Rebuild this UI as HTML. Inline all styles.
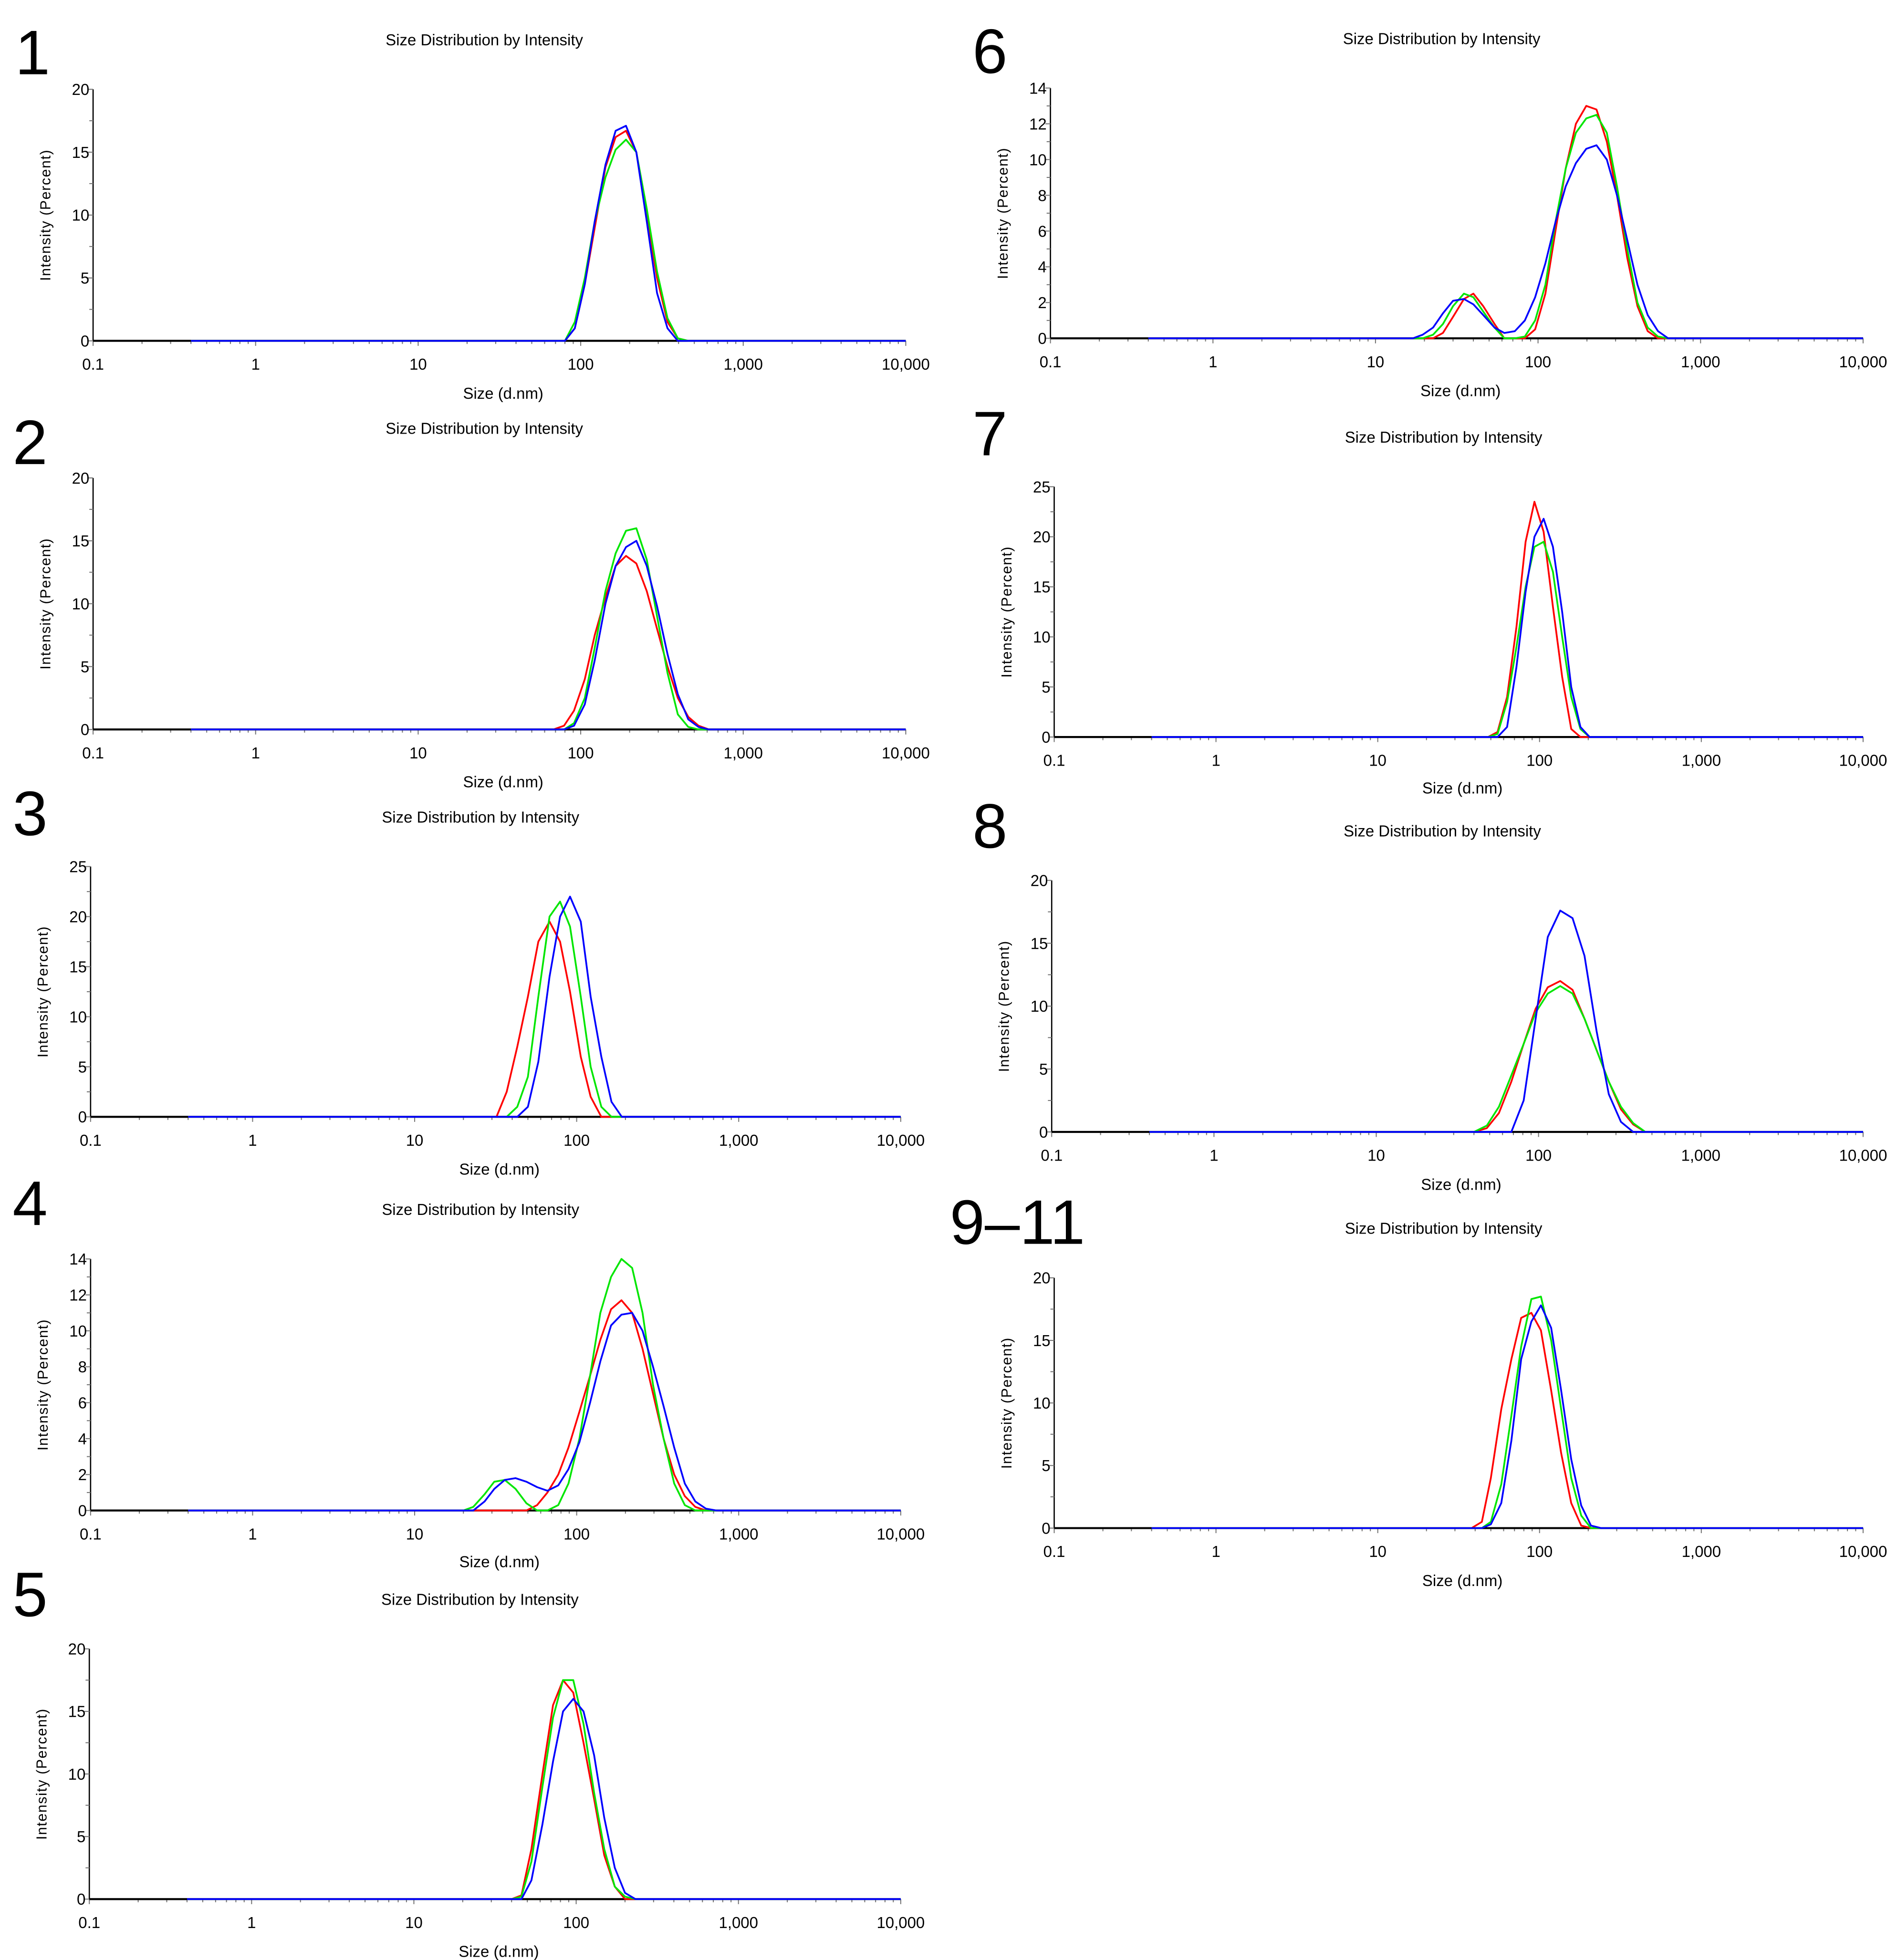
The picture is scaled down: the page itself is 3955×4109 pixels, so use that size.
<!DOCTYPE html>
<html><head><meta charset="utf-8"><style>
html,body{margin:0;padding:0;background:#fff;}
svg{display:block;}
text{font-family:"Liberation Sans",sans-serif;fill:#000;}
</style></head><body>
<svg id="fig" xmlns="http://www.w3.org/2000/svg" width="3955" height="4109" viewBox="0 0 1500 1558.4"></svg>
<script>
// ---- data (sizes in nm, intensity in percent) ----
const p1Sizes=[80,92,106,122,142,164,190,220,255,295,342,396,459];
const p1Red=[0,1,4.5,9,13.8,16.2,16.7,15,10,5,1.5,0.2,0];
const p1Green=[0,1.5,5,9.5,13,15.2,16,15,10.5,5.5,1.8,0.2,0];
const p1Blue=[0,1,4.5,9.5,14,16.7,17.1,15,9.5,3.8,1,0,0];

const p2Sizes=[68,79,91,106,122,142,164,190,220,255,295,342,396,459,531,615,712];
const p2Red=[0,0.3,1.5,4,7.5,10.5,13,13.8,13.2,11,8,5,2.5,1,0.3,0,0];
const p2Green=[0,0,0.5,2.5,6.5,11,14,15.8,16,13.5,9,4.5,1.2,0.2,0,0,0];
const p2Blue=[0,0,0.3,2,5.5,10,13,14.5,15,13,9.8,6,2.8,0.8,0.2,0,0];

const p3Sizes=[28,32,37,43,50,58,68,79,91,106,122,142,164,190];
const p3Red=[0,0,2.5,7,12,17.5,19.5,17.5,12.5,6,2,0,0,0];
const p3Green=[0,0,0,1,4,12,20,21.5,19,12,5,1,0,0];
const p3Blue=[0,0,0,0,1,5.5,14,20,22,19.5,12,6,1.5,0];

const p4Sizes=[20,23,27,31,36,42,49,57,66,77,89,104,121,140,163,189,220,255,296,344,400,465,540,628,730];
const p4Red=[0,0,0,0,0,0,0,0.3,1,2,3.5,5.5,7.5,9.5,11.2,11.7,11,9,6.5,4,2,0.8,0.2,0,0];
const p4Green=[0,0.2,0.9,1.6,1.7,1.2,0.4,0,0,0.3,1.5,4,7.5,11,13,14,13.5,11,7,4,1.5,0.3,0,0,0];
const p4Blue=[0,0,0.5,1.2,1.7,1.8,1.6,1.3,1.1,1.4,2.3,3.8,6,8.3,10.3,10.9,11,10,8,5.8,3.5,1.5,0.5,0.1,0];

const p5Sizes=[40,46,53,62,72,83,96,111,129,149,173,200,232,268];
const p5Red=[0,0.3,4,10,15.5,17.5,16.5,12.5,8,3.5,1,0,0,0];
const p5Green=[0,0.2,3,9,14.5,17.5,17.5,14,8.5,4,1,0.2,0,0];
const p5Blue=[0,0,1.5,6,11,15,16,15,11.5,6.5,2.5,0.5,0,0];

const p6Sizes=[17,19.5,22.6,26,30,35,40,46,54,62,72,83,96,111,128,148,171,198,229,265,306,354,409,473,547,632,731];
const p6Red=[0,0,0,0.3,1.2,2.2,2.5,1.8,0.8,0,0,0,0.5,2.5,6,9.5,12,13,12.8,11,8,4.5,1.8,0.4,0,0,0];
const p6Green=[0,0,0.2,0.8,1.8,2.5,2.3,1.5,0.6,0,0,0.1,1,3,6.5,9.5,11.5,12.3,12.5,11.5,8.5,5,2,0.6,0.1,0,0];
const p6Blue=[0,0.2,0.6,1.4,2.1,2.2,1.9,1.3,0.6,0.3,0.4,1,2.3,4.2,6.5,8.5,9.8,10.6,10.8,10,8,5.5,3,1.3,0.4,0,0];

const p7Sizes=[48,55,63,72,82,93,106,121,138,157,179,204,232];
const p7Red=[0,0.5,4,11,19.5,23.5,20.5,13,6,0.8,0,0,0];
const p7Green=[0,0.3,3.5,9,15,19,19.5,16.5,10,4,0.8,0,0];
const p7Blue=[0,0,1,7,14.5,20,21.8,19,12.5,5,1,0,0];

const p8Sizes=[40,48,57,68,81,96,114,136,162,192,228,271,322,383,455,540];
const p8Red=[0,0.3,1.5,4,7,9.8,11.5,12,11.3,9,6.5,4,1.8,0.6,0,0];
const p8Green=[0,0.5,2,4.5,7,9.5,11,11.6,11,9,6.5,4,2,0.7,0,0];
const p8Blue=[0,0,0,0,2.5,9,15.5,17.6,17,14,8,3,0.8,0,0,0];

const p9Sizes=[38,44,50,58,67,77,89,102,118,136,157,181,208,240];
const p9Red=[0,0.5,4,9.5,13.5,16.8,17.2,15.8,11,6,2,0.2,0,0];
const p9Green=[0,0,0.5,3.5,9,14.5,18.3,18.5,15,9.5,4,1,0,0];
const p9Blue=[0,0,0.3,2,7,13.5,16.5,17.8,16,11,5.5,1.8,0.2,0];

const xTickLabels=["0.1","1","10","100","1,000","10,000"];
const panelLabels=["1","2","3","4","5","6","7","8","9–11"];
const panelYMax=[20,20,25,14,20,14,25,20,20];
const panelYStep=[5,5,5,2,5,2,5,5,5];

// ---- layout (not data) ----
const layouts=[
 {x0:74,x1:720,yz:271,yt:71,ty:36,lx:12,ly:59,xl:317},
 {x0:74,x1:720,yz:580,yt:380,ty:345,lx:10,ly:369,xl:626},
 {x0:72,x1:716,yz:888,yt:689,ty:654,lx:10,ly:664,xl:934},
 {x0:72,x1:716,yz:1201,yt:1001,ty:966,lx:10,ly:974,xl:1246},
 {x0:71,x1:716,yz:1510,yt:1311,ty:1276,lx:10,ly:1285,xl:1556},
 {x0:835,x1:1481,yz:269,yt:70,ty:35,lx:773,ly:58,xl:315},
 {x0:838,x1:1481,yz:586,yt:387,ty:352,lx:773,ly:362,xl:631},
 {x0:836,x1:1481,yz:900,yt:700,ty:665,lx:773,ly:674,xl:946},
 {x0:838,x1:1481,yz:1215,yt:1016,ty:981,lx:755,ly:989,xl:1261}
];
const allData=[
 [p1Sizes,p1Red,p1Green,p1Blue],[p2Sizes,p2Red,p2Green,p2Blue],[p3Sizes,p3Red,p3Green,p3Blue],
 [p4Sizes,p4Red,p4Green,p4Blue],[p5Sizes,p5Red,p5Green,p5Blue],[p6Sizes,p6Red,p6Green,p6Blue],
 [p7Sizes,p7Red,p7Green,p7Blue],[p8Sizes,p8Red,p8Green,p8Blue],[p9Sizes,p9Red,p9Green,p9Blue]
];
const NS="http://www.w3.org/2000/svg";
const svg=document.getElementById('fig');
function mk(tag,attrs,parent){const e=document.createElementNS(NS,tag);for(const k in attrs)e.setAttribute(k,attrs[k]);parent.appendChild(e);return e;}

layouts.forEach((L,i)=>{
  const g=mk('g',{},svg);
  
  
  const ymax=panelYMax[i], ystep=panelYStep[i];
  const xs=v=>L.x0+(Math.log10(v)+1)/5*(L.x1-L.x0);
  const ys=v=>L.yz-(v/ymax)*(L.yz-L.yt);
  const cx=(L.x0+L.x1)/2;
  // panel number
  const pl=mk('text',{x:L.lx,y:L.ly,'font-size':50},g);pl.textContent=panelLabels[i];
  
  
  // title
  const t=mk('text',{x:cx-12,y:L.ty,'font-size':12.5,'text-anchor':'middle'},g);t.textContent="Size Distribution by Intensity";
  
  
  // x label
  const xl=mk('text',{x:cx+3,y:L.xl,'font-size':12.5,'text-anchor':'middle'},g);xl.textContent="Size (d.nm)";
  
  
  // y label
  const ymid=(L.yz+L.yt)/2;
  const yl=mk('text',{x:L.x0-34,y:ymid,'font-size':11.5,'text-anchor':'middle','letter-spacing':'0.6',transform:`rotate(-90 ${L.x0-34} ${ymid})`},g);yl.textContent="Intensity (Percent)";
  
  
  // y axis
  const ya=mk('line',{x1:L.x0,y1:L.yt,x2:L.x0,y2:L.yz,stroke:'#000','stroke-width':1},g);
  
  
  for(let v=0;v<=ymax+1e-9;v+=ystep/2){
    const major=Math.abs(v/ystep-Math.round(v/ystep))<1e-6;
    mk('line',{x1:L.x0-(major?4:3),y1:ys(v),x2:L.x0,y2:ys(v),stroke:'#777','stroke-width':0.8},g);
    if(major){const tl=mk('text',{x:L.x0-3,y:ys(v)+4.5,'font-size':12.5,'text-anchor':'end'},g);tl.textContent=String(v);
      
      }
  }
  // x ticks
  for(let d=-1;d<=4;d++){
    const lbl=mk('text',{x:xs(Math.pow(10,d)),y:L.yz+23,'font-size':12.5,'text-anchor':'middle'},g);lbl.textContent=xTickLabels[d+1];
    
    
    for(let m=1;m<=9;m++){const v=m*Math.pow(10,d);if(v>10000.1)break;
      mk('line',{x1:xs(v),y1:L.yz,x2:xs(v),y2:L.yz+(m===1?4:2.5),stroke:'#777','stroke-width':0.8},g);}
  }
  // baseline
  const bl=mk('line',{x1:L.x0,y1:L.yz,x2:L.x1,y2:L.yz,stroke:'#000','stroke-width':1.6},g);
  
  
  // series
  const [sz,r,gr,b]=allData[i];
  [[r,'#ff0000','red'],[gr,'#00e600','green'],[b,'#0000ff','blue']].forEach(([vals,col,nm])=>{
    const pts=[[0.4,0]];
    sz.forEach((s,k)=>pts.push([s,vals[k]]));
    pts.push([10000,0]);
    const d=pts.map((p,k)=>(k?'L':'M')+xs(p[0]).toFixed(2)+','+ys(p[1]).toFixed(2)).join(' ');
    const path=mk('path',{d:d,fill:'none',stroke:col,'stroke-width':1.4,'stroke-linejoin':'round'},g);
    
    
  });
});
</script>
</body></html>
